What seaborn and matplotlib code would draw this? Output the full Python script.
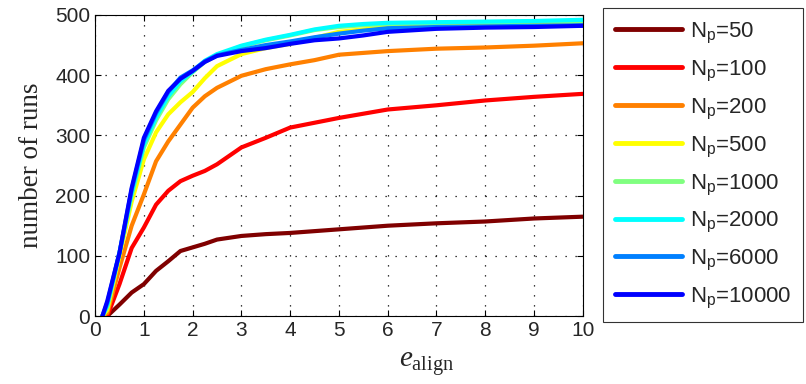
import matplotlib
matplotlib.use("Agg")
import matplotlib.pyplot as plt
import pandas as pd
import seaborn as sns

e_align = [0.15, 0.25, 0.5, 0.75, 1, 1.25, 1.5, 1.75, 2, 2.25, 2.5, 3, 3.5, 4,
           4.5, 5, 5.5, 6, 7, 8, 9, 10]

np_labels = ["50", "100", "200", "500", "1000", "2000", "6000", "10000"]
runs_50 = [0, 0, 19, 39, 53, 75, 91, 108, 114, 120, 127, 133, 136, 138, 141, 144, 147, 150, 154, 157, 162, 165]
runs_100 = [0, 0, 53, 113, 147, 185, 208, 224, 233, 241, 252, 280, 296, 313, 321, 329, 336, 343, 350, 358, 364, 369]
runs_200 = [0, 5, 80, 150, 202, 257, 290, 318, 346, 365, 379, 399, 410, 418, 425, 434, 437, 440, 444, 446, 449, 453]
runs_500 = [0, 10, 100, 190, 260, 305, 335, 355, 372, 395, 415, 435, 445, 452, 462, 472, 476, 480, 483, 485, 487, 488]
runs_1000 = [0, 15, 105, 200, 280, 325, 360, 385, 405, 422, 433, 448, 458, 466, 475, 480, 483, 485, 487, 488, 489, 490]
runs_2000 = [0, 18, 105, 205, 285, 330, 365, 390, 406, 424, 435, 449, 459, 467, 476, 482, 485, 487, 488, 489, 490, 492]
runs_6000 = [0, 22, 105, 210, 292, 337, 372, 396, 408, 423, 433, 442, 450, 456, 463, 469, 474, 478, 480, 481, 482, 483]
runs_10000 = [0, 25, 105, 213, 296, 340, 374, 394, 407, 422, 432, 440, 445, 452, 458, 461, 466, 472, 477, 479, 480, 482]
all_runs = [runs_50, runs_100, runs_200, runs_500, runs_1000, runs_2000, runs_6000, runs_10000]

# jet-like colours, one per N_p
colors = ["#800000", "#ff0000", "#ff8000", "#ffff00", "#80ff80", "#00ffff", "#0080ff", "#0000ff"]

sns.set_style("ticks")
plt.rcParams["font.family"] = ["Liberation Sans", "DejaVu Sans"]
plt.rcParams["mathtext.fontset"] = "custom"
plt.rcParams["mathtext.rm"] = "Liberation Serif"
plt.rcParams["mathtext.it"] = "Liberation Serif:italic"
plt.rcParams["mathtext.sf"] = "Liberation Sans"

fig = plt.figure(figsize=(8.06, 3.84), dpi=100)
ax = fig.add_axes([0.118, 0.177, 0.605, 0.784])

for lab, runs, col in zip(np_labels, all_runs, colors):
    df = pd.DataFrame({"e_align": e_align, "runs": runs})
    sns.lineplot(data=df, x="e_align", y="runs", color=col, linewidth=3,
                 label=r"N$_{\mathsf{p}}$=" + lab, ax=ax)

ax.set_xlim(0, 10)
ax.set_ylim(0, 500)
ax.set_xticks(range(0, 11))
ax.set_yticks(range(0, 501, 100))
ax.grid(True, linestyle=(0, (1, 7)), color="black", linewidth=0.9)
ax.tick_params(direction="in", top=True, right=True, labelsize=15, length=4, color="black")
for sp in ax.spines.values():
    sp.set_color("black")
    sp.set_linewidth(0.8)
ax.set_xlabel(r"$e_{\mathrm{align}}$", fontsize=21)
ax.xaxis.set_label_coords(0.679, -0.113)
ax.set_ylabel("number of runs", fontsize=19.5, family="Liberation Serif", labelpad=8)

handles, labels = ax.get_legend_handles_labels()
ax.get_legend().remove()
leg = fig.legend(handles, labels, loc="upper left", bbox_to_anchor=(0.748, 0.978),
                 fontsize=16, handlelength=3.0, handletextpad=0.35, labelspacing=0.6,
                 frameon=True, fancybox=False, edgecolor="black", borderpad=0.55,
                 borderaxespad=0)
leg.get_frame().set_linewidth(0.8)
for h in leg.get_lines():
    h.set_linewidth(3.5)

fig.savefig("out.png", dpi=100)
